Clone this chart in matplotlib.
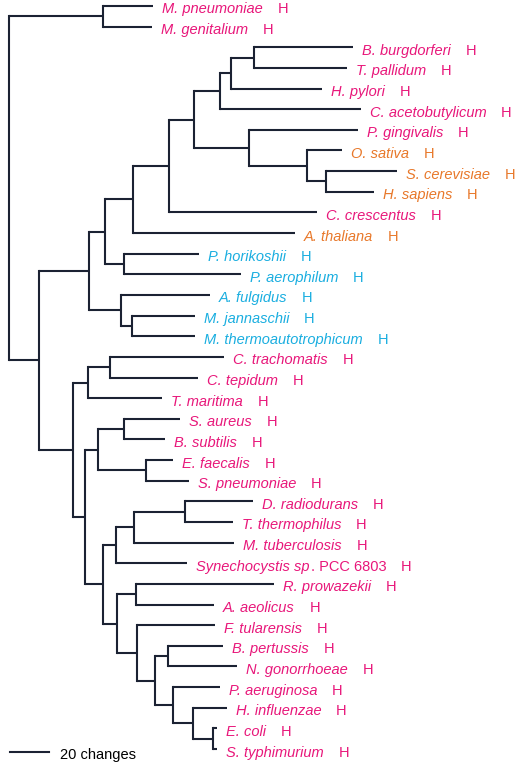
import matplotlib.pyplot as plt

# leaves, top to bottom
taxa = ['M. pneumoniae', 'M. genitalium', 'B. burgdorferi', 'T. pallidum', 'H. pylori',
        'C. acetobutylicum', 'P. gingivalis', 'O. sativa', 'S. cerevisiae', 'H. sapiens',
        'C. crescentus', 'A. thaliana', 'P. horikoshii', 'P. aerophilum', 'A. fulgidus',
        'M. jannaschii', 'M. thermoautotrophicum', 'C. trachomatis', 'C. tepidum',
        'T. maritima', 'S. aureus', 'B. subtilis', 'E. faecalis', 'S. pneumoniae',
        'D. radiodurans', 'T. thermophilus', 'M. tuberculosis', 'Synechocystis sp',
        'R. prowazekii', 'A. aeolicus', 'F. tularensis', 'B. pertussis', 'N. gonorrhoeae',
        'P. aeruginosa', 'H. influenzae', 'E. coli', 'S. typhimurium']
group = ['B', 'B', 'B', 'B', 'B', 'B', 'B', 'E', 'E', 'E', 'B', 'E', 'A', 'A', 'A', 'A', 'A',
         'B', 'B', 'B', 'B', 'B', 'B', 'B', 'B', 'B', 'B', 'B', 'B', 'B', 'B', 'B', 'B',
         'B', 'B', 'B', 'B']
# distance from root to each tip (changes)
tip_depth = [73.8, 73.3, 176.4, 173.3, 160.5, 180.5, 179.0, 170.8, 199.0, 187.2,
             158.0, 146.7, 97.4, 119.0, 103.0, 95.4, 95.4, 110.3, 97.0, 78.5,
             87.7, 80.0, 84.1, 92.3, 125.1, 114.9, 115.4, 91.3, 135.9, 105.1,
             105.6, 109.7, 116.9, 108.2, 111.8, 106.7, 106.7]
# internal nodes: (child, child, depth); ids >= 37 are earlier merges
merges = [
    (0, 1, 48.2),      # 37
    (2, 3, 125.6),     # 38
    (38, 4, 113.8),    # 39
    (39, 5, 108.2),    # 40
    (8, 9, 162.6),     # 41
    (7, 41, 152.8),    # 42
    (6, 42, 123.1),    # 43
    (40, 43, 94.9),    # 44
    (44, 10, 82.0),    # 45
    (45, 11, 63.6),    # 46
    (12, 13, 59.0),    # 47
    (46, 47, 49.2),    # 48
    (15, 16, 63.1),    # 49
    (14, 49, 57.4),    # 50
    (48, 50, 41.0),    # 51
    (17, 18, 51.8),    # 52
    (52, 19, 40.5),    # 53
    (20, 21, 59.0),    # 54
    (22, 23, 70.3),    # 55
    (54, 55, 45.6),    # 56
    (24, 25, 90.3),    # 57
    (57, 26, 64.1),    # 58
    (58, 27, 54.9),    # 59
    (28, 29, 65.1),    # 60
    (31, 32, 81.5),    # 61
    (35, 36, 104.6),   # 62
    (34, 62, 94.4),    # 63
    (33, 63, 84.1),    # 64
    (61, 64, 74.9),    # 65
    (30, 65, 65.6),    # 66
    (60, 66, 55.4),    # 67
    (59, 67, 48.2),    # 68
    (56, 68, 39.0),    # 69
    (53, 69, 32.8),    # 70
    (51, 70, 15.4),    # 71
    (37, 71, 0.0),     # 72 root
]
scale_len = 20

colors = {'B': '#e8177a', 'E': '#e8782a', 'A': '#1aaee0'}
line_col = '#1b2233'

fig = plt.figure(figsize=(5.23, 7.71), dpi=100)
ax = fig.add_axes([0, 0, 1, 1])
px = 1.95  # pixels per change
ax.set_xlim(-9 / px, (523 - 9) / px)
ax.set_ylim((771 - 6) / 20.64, -6 / 20.64)
ax.axis('off')

xs = list(tip_depth)
ys = list(range(len(taxa)))
for a, b, d in merges:
    for c in (a, b):
        ax.plot([d, xs[c]], [ys[c], ys[c]], color=line_col, lw=1.5, solid_capstyle='butt')
    ax.plot([d, d], [ys[a], ys[b]], color=line_col, lw=1.5, solid_capstyle='projecting')
    xs.append(d)
    ys.append((ys[a] + ys[b]) / 2)

fs = 10.5
for i, name in enumerate(taxa):
    col = colors[group[i]]
    t = ax.annotate(name, xy=(tip_depth[i], i), xytext=(6.5, -2.5), textcoords='offset points',
                    ha='left', va='center', fontsize=fs, style='italic', color=col,
                    family='Liberation Sans')
    if name.startswith('Synechocystis'):
        t = ax.annotate('. PCC 6803', xy=(1, 0.5), xycoords=t, xytext=(1, 0),
                        textcoords='offset points', ha='left', va='center', fontsize=fs,
                        color=col, family='Liberation Sans')
    ax.annotate('H', xy=(1, 0.5), xycoords=t, xytext=(10.5, 0), textcoords='offset points',
                ha='left', va='center', fontsize=fs, color=col, family='Liberation Sans')

# scale bar
sy = (752 - 6) / 20.64
ax.plot([0.5, 0.5 + scale_len], [sy, sy], color=line_col, lw=1.5)
ax.annotate('20 changes', xy=(0.5 + scale_len, sy), xytext=(8, -2.5), textcoords='offset points',
            ha='left', va='center', fontsize=fs, color='black', family='Liberation Sans')

fig.savefig('out.png', dpi=100)
